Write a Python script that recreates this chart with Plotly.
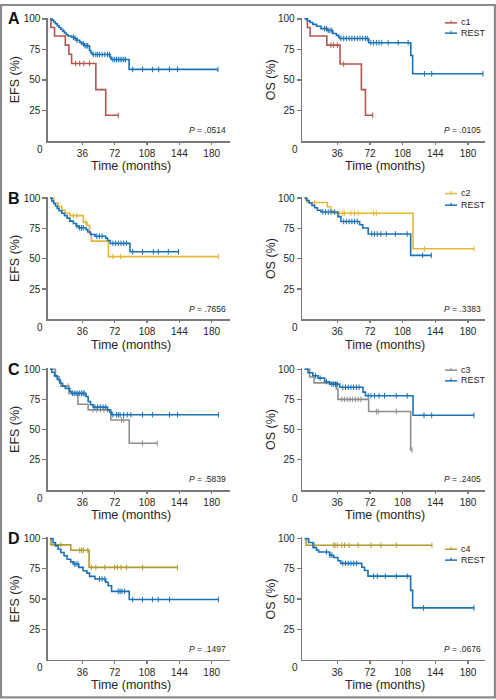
import plotly.graph_objects as go

# ---------------- data (months, survival %) ----------------
# Panel A
efsA_c1_t = [0, 1, 5, 17, 21, 24, 51, 62, 76]
efsA_c1_s = [100, 93, 86, 78.5, 71, 63.5, 42, 21, 21]
efsA_c1_c = [28.5, 33, 37.5, 44, 76]
efsA_rest_t = [0, 2, 4, 6, 8, 10, 12, 14, 16, 18, 20, 24, 27, 30, 33, 35, 38, 44, 45.5, 47, 67, 68, 88, 187]
efsA_rest_s = [100, 99, 97.5, 96, 94.5, 93, 91.5, 90, 88.5, 87, 86, 85, 84, 82.5, 81, 79.5, 78, 74, 72, 70.8, 68.5, 66.7, 58.6, 58.6]
efsA_rest_c = [26, 28, 30, 37, 39, 41, 42, 48, 51, 53, 55, 58, 61, 64, 66, 70, 72, 74, 76, 78, 80, 82, 84, 92, 103, 114, 121, 133, 142, 187]

osA_c1_t = [0, 3, 6, 24.5, 39, 62.5, 67, 75]
osA_c1_s = [100, 93, 86, 78.5, 63, 42, 21, 21]
osA_c1_c = [29, 32, 36, 43, 75]
osA_rest_t = [0, 3, 6, 9, 13, 18, 25, 31, 35, 37.5, 38.5, 70.5, 117, 119, 196.5]
osA_rest_s = [100, 98.5, 97, 95.5, 94, 92, 90.5, 88, 86.5, 85, 84, 80.5, 70, 55, 55]
osA_rest_c = [22, 24, 26, 28, 30, 40, 43, 46, 49, 52, 55, 58, 61, 64, 67, 69, 73, 76, 79, 82, 85, 92, 103, 114, 132, 140, 196.5]

# Panel B
efsB_c2_t = [0, 4, 9, 13, 17, 22, 37, 41, 44, 46, 65, 187.5]
efsB_c2_s = [100, 96, 93, 90, 87.5, 85.5, 80, 77.5, 71, 64.5, 51.7, 51.7]
efsB_c2_c = [26, 30, 40, 70, 78.5, 187.5]
efsB_rest_t = [0, 2, 4, 6, 8, 10, 13, 16, 19, 22, 26, 29, 32, 40, 42, 45, 50, 62, 64, 67, 89, 143]
efsB_rest_s = [100, 97.5, 95.5, 93.5, 91.5, 89.5, 87.5, 85.5, 83.5, 81, 79, 77, 75.5, 74, 72, 70, 68.5, 67, 65, 62.7, 55.8, 55.8]
efsB_rest_c = [30, 33, 35, 37, 52, 55, 58, 70, 73, 76, 79, 82, 85, 92, 103, 115, 120.5, 131.7, 143]

osB_c2_t = [0, 3, 25, 28.7, 31, 119.4, 186.6]
osB_c2_s = [100, 96.4, 92.9, 89.6, 87.5, 58.2, 58.2]
osB_c2_c = [11, 38, 42, 44, 51, 55, 59, 76, 79, 132, 186.6]
osB_rest_t = [0, 2, 5, 8, 11, 14, 18, 36.7, 40, 60.6, 64, 70, 116.8, 139.6]
osB_rest_s = [100, 98, 96, 94, 92, 90, 88.5, 84.7, 80.7, 78, 75.3, 70.4, 52.8, 52.8]
osB_rest_c = [20, 23, 26, 29, 33, 43, 46, 49, 52, 55, 58, 74, 77, 80, 84, 90, 100, 113, 130, 139.6]

# Panel C
efsC_c3_t = [0, 6, 10, 12, 21, 31, 42.4, 67.7, 88.2, 119.4]
efsC_c3_s = [100, 94, 90, 86, 80, 71, 66.3, 57.9, 38.6, 38.6]
efsC_c3_c = [20, 48, 52, 56, 60, 64, 79.6, 82, 103, 119.4]
efsC_rest_t = [0, 2, 5, 8, 11, 14, 17, 22, 24, 40, 42.4, 45, 48, 64, 66.6, 68.5, 187.5]
efsC_rest_s = [100, 97.5, 94.5, 91.5, 88.3, 86, 84, 81.5, 80, 77.4, 73.3, 70.5, 68.6, 66.3, 64.4, 62.3, 62.3]
efsC_rest_c = [25, 27, 29, 31, 33, 35, 37, 38, 50, 53, 56, 59, 62, 70, 74, 76, 78, 82, 86, 90, 103, 114, 133, 142, 187.5]

osC_c3_t = [0, 5.5, 10.3, 35, 36.7, 70.5, 116.8, 118.3]
osC_c3_s = [100, 93.5, 88.7, 83.6, 75, 65, 33, 33]
osC_c3_c = [41, 44, 47, 50, 53, 56, 59, 62, 79, 81, 101, 118.3]
osC_rest_t = [0, 3.7, 9, 14.7, 22, 27.5, 38.6, 64.3, 67, 119.4, 186.6]
osC_rest_s = [100, 97, 94.6, 92.6, 89.6, 87.6, 85, 81, 78, 61.8, 61.8]
osC_rest_c = [12, 17, 24, 30, 32, 34, 36, 42, 45, 48, 51, 54, 57, 60, 70, 73, 77, 82, 88, 101, 113, 131.5, 140, 186.6]

# Panel D
efsD_c4_t = [0, 1, 23, 43.5, 141.8]
efsD_c4_s = [100, 94.8, 90.4, 76.2, 76.2]
efsD_c4_c = [12, 33, 35, 37, 42, 46, 51, 61, 72, 75, 79, 85, 103, 141.8]
efsD_rest_t = [0, 3.3, 6, 9, 12, 15.6, 19, 23, 25.7, 32, 36.8, 41, 44, 50, 62, 64.7, 68.5, 88.2, 187.5]
efsD_rest_s = [100, 96.7, 94, 91.2, 88.5, 85.8, 83, 80.8, 79, 76.2, 73.4, 71.5, 68.8, 66.6, 63.9, 61, 56.4, 49.6, 49.6]
efsD_rest_c = [27, 29, 31, 55, 58, 61, 76, 78, 80, 83, 92, 103, 114, 120.5, 133, 187.5]

osD_c4_t = [0, 1.8, 140.3]
osD_c4_s = [100, 94.5, 94.5]
osD_c4_c = [11, 32, 33.5, 36, 41, 44, 49, 59, 73, 84, 101, 140.3]
osD_rest_t = [0, 4.4, 9.2, 13, 15.4, 27.5, 32, 36.7, 39.7, 63, 66, 69.8, 116.8, 119, 186.6]
osD_rest_s = [100, 96.8, 92.6, 90.5, 89, 86.3, 84.4, 81.7, 79.5, 76.3, 73.6, 69, 57.2, 42.7, 42.7]
osD_rest_c = [24, 28, 30, 42, 45, 48, 51, 54, 57, 76, 80, 89, 101, 113, 131, 186.6]

panel_letters = ["A", "B", "C", "D"]
group_names = ["c1", "c2", "c3", "c4"]
p_efs = [".0514", ".7656", ".5839", ".1497"]
p_os = [".0105", ".3383", ".2405", ".0676"]
x_ticks = [36, 72, 108, 144, 180]
y_ticks = [25, 50, 75, 100]

# ---------------- styling ----------------
W, H = 496, 700
FONT = "Liberation Sans, Arial, Helvetica, sans-serif"
BLUE = "#1a72b6"
GROUP_COLORS = ["#b4544c", "#e3b737", "#8e8e8e", "#b19a2f"]
AXIS = "#7a7a7a"
TXT = "#262626"

rows_px = [(137.7, 15.0), (317.2, 195.2), (488.7, 367.3), (659.3, 537.7)]  # (y of 0, y of 100)
cols_px = [(48.0, 230.0, -2.3, 200.4), (302.3, 484.7, -2.6, 198.4)]
legend_px = [(19.0, 29.3), (190.7, 202.3), (368.3, 379.0), (548.3, 559.3)]

curves = [
    [(efsA_c1_t, efsA_c1_s, efsA_c1_c, efsA_rest_t, efsA_rest_s, efsA_rest_c),
     (osA_c1_t, osA_c1_s, osA_c1_c, osA_rest_t, osA_rest_s, osA_rest_c)],
    [(efsB_c2_t, efsB_c2_s, efsB_c2_c, efsB_rest_t, efsB_rest_s, efsB_rest_c),
     (osB_c2_t, osB_c2_s, osB_c2_c, osB_rest_t, osB_rest_s, osB_rest_c)],
    [(efsC_c3_t, efsC_c3_s, efsC_c3_c, efsC_rest_t, efsC_rest_s, efsC_rest_c),
     (osC_c3_t, osC_c3_s, osC_c3_c, osC_rest_t, osC_rest_s, osC_rest_c)],
    [(efsD_c4_t, efsD_c4_s, efsD_c4_c, efsD_rest_t, efsD_rest_s, efsD_rest_c),
     (osD_c4_t, osD_c4_s, osD_c4_c, osD_rest_t, osD_rest_s, osD_rest_c)],
]


def px(x):
    return x / W


def py(y):
    return 1 - y / H


def step_at(ts, ss, t):
    v = ss[0]
    for ti, si in zip(ts, ss):
        if ti <= t:
            v = si
    return v


fig = go.Figure()
layout = dict(
    width=W, height=H, margin=dict(l=0, r=0, t=0, b=0),
    paper_bgcolor="white", plot_bgcolor="white", showlegend=False,
    font=dict(family=FONT, color=TXT),
)
annotations = []
shapes = []


def add_curve(t, s, c, color, xa, ya):
    fig.add_trace(go.Scatter(x=t, y=s, mode="lines", line=dict(color=color, width=1.6, shape="hv"),
                             xaxis=xa, yaxis=ya, hoverinfo="skip"))
    fig.add_trace(go.Scatter(x=c, y=[step_at(t, s, ci) for ci in c], mode="markers",
                             marker=dict(symbol="line-ns", size=4, line=dict(color=color, width=1)),
                             xaxis=xa, yaxis=ya, hoverinfo="skip"))


for r in range(4):
    y0, y100 = rows_px[r]
    unit = (y0 - y100) / 100.0
    ytop = y0 - 101 * unit
    for c in range(2):
        idx = r * 2 + c + 1
        xl, xr, rmin, rmax = cols_px[c]
        xa = "x" if idx == 1 else f"x{idx}"
        ya = "y" if idx == 1 else f"y{idx}"
        xkey = "xaxis" if idx == 1 else f"xaxis{idx}"
        ykey = "yaxis" if idx == 1 else f"yaxis{idx}"
        layout[xkey] = dict(domain=[px(xl), px(xr)], anchor=ya, range=[rmin, rmax],
                            tickvals=x_ticks, ticks="outside", ticklen=2.5, tickwidth=1.2,
                            tickcolor=AXIS, showline=True, linecolor=AXIS, linewidth=1.6,
                            showgrid=False, zeroline=False, fixedrange=True,
                            tickfont=dict(size=10, family=FONT, color=TXT))
        layout[ykey] = dict(domain=[py(y0), py(ytop)], anchor=xa, range=[0, 101],
                            tickvals=y_ticks, ticks="outside", ticklen=4, tickwidth=1.2,
                            tickcolor=AXIS, showline=True, linecolor=AXIS, linewidth=1.6,
                            showgrid=False, zeroline=False, fixedrange=True,
                            tickfont=dict(size=10, family=FONT, color=TXT))
        gt, gs, gc, rt, rs, rc = curves[r][c]
        add_curve(gt, gs, gc, GROUP_COLORS[r], xa, ya)
        add_curve(rt, rs, rc, BLUE, xa, ya)

        # "0" at the origin
        zero_x = 40.0 if c == 0 else 294.7
        annotations.append(dict(x=px(zero_x), y=py(y0 + 8.3), xref="paper", yref="paper", text="0",
                                showarrow=False, xanchor="center", yanchor="middle",
                                font=dict(size=10, family=FONT, color=TXT)))
        # axis titles
        tcx = 131.0 if c == 0 else 385.0
        annotations.append(dict(x=px(tcx), y=py(y0 + 25.6), xref="paper", yref="paper",
                                text="Time (months)", showarrow=False, xanchor="center", yanchor="middle",
                                font=dict(size=12.5, family=FONT, color=TXT)))
        ycx = 15.0 if c == 0 else 271.0
        annotations.append(dict(x=px(ycx), y=py((y0 + ytop) / 2 + 1), xref="paper", yref="paper",
                                text="EFS (%)" if c == 0 else "OS (%)", textangle=-90, showarrow=False,
                                xanchor="center", yanchor="middle",
                                font=dict(size=12.5, family=FONT, color=TXT)))
        # P value
        pr = 228.0 if c == 0 else 483.0
        pv = p_efs[r] if c == 0 else p_os[r]
        annotations.append(dict(x=px(pr), y=py(y0 - 10.5), xref="paper", yref="paper",
                                text=f"<i>P</i> = {pv}", showarrow=False, xanchor="right", yanchor="middle",
                                font=dict(size=8.5, family=FONT, color=TXT)))

    # panel letter
    annotations.append(dict(x=px(14), y=py(y100), xref="paper", yref="paper",
                            text=f"<b>{panel_letters[r]}</b>", showarrow=False, xanchor="center",
                            yanchor="middle", font=dict(size=16, family=FONT, color="#111")))
    # legend (right panel)
    for k, (name, col) in enumerate([(group_names[r], GROUP_COLORS[r]), ("REST", BLUE)]):
        ly = legend_px[r][k]
        shapes.append(dict(type="line", xref="paper", yref="paper", x0=px(445), x1=px(457),
                           y0=py(ly), y1=py(ly), line=dict(color=col, width=1.5)))
        shapes.append(dict(type="line", xref="paper", yref="paper", x0=px(451), x1=px(451),
                           y0=py(ly - 2.5), y1=py(ly), line=dict(color=col, width=1.1)))
        annotations.append(dict(x=px(459), y=py(ly - 0.5), xref="paper", yref="paper", text=name,
                                showarrow=False, xanchor="left", yanchor="middle",
                                font=dict(size=9, family=FONT, color=TXT)))

# outer frame
shapes.append(dict(type="rect", xref="paper", yref="paper", x0=px(1), x1=px(495), y0=py(697.3), y1=py(1),
                   line=dict(color="#8c8c8c", width=2.2), fillcolor="rgba(0,0,0,0)", layer="above"))

layout["annotations"] = annotations
layout["shapes"] = shapes
fig.update_layout(**layout)
fig.write_html(
    "out.html",
    config={"displayModeBar": False, "staticPlot": True},
    post_script="document.body.style.margin='0';document.body.style.overflow='hidden';",
)
